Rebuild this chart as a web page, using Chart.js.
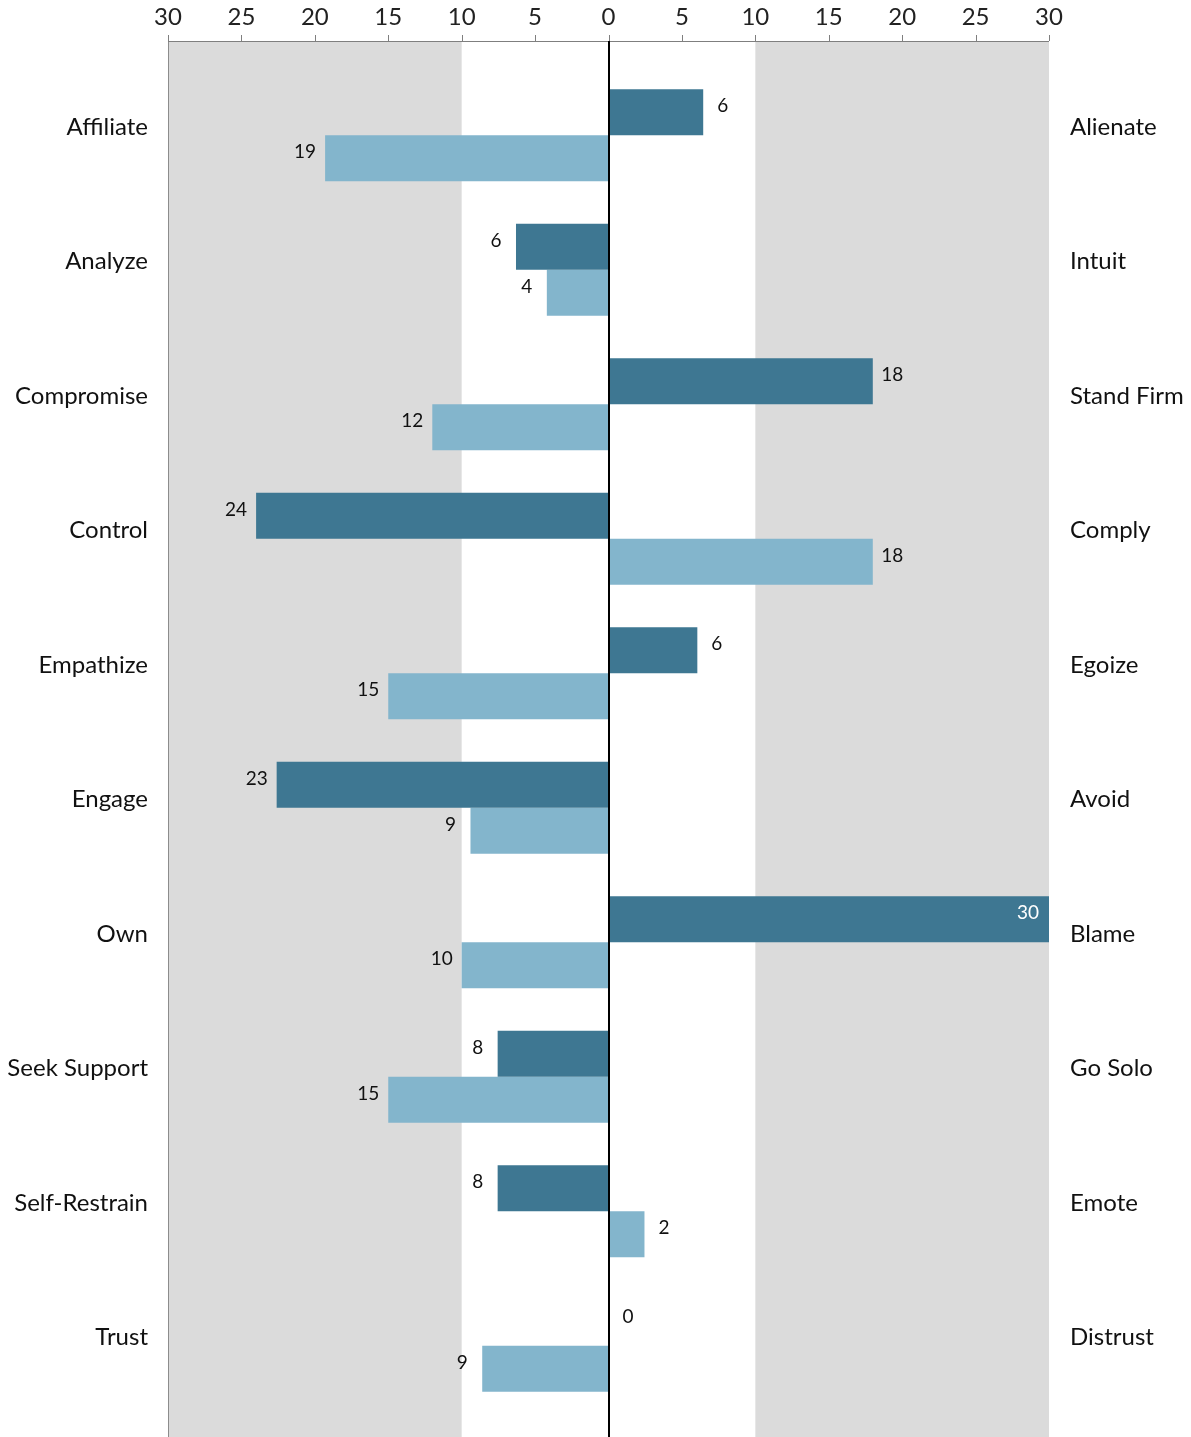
<!DOCTYPE html>
<html>
<head>
<meta charset="utf-8">
<title>Style profile</title>
<script src="https://cdn.jsdelivr.net/npm/chart.js@4.4.1/dist/chart.umd.min.js"></script>
<style>
  html, body { margin: 0; padding: 0; background: #fff; }
  #wrap { width: 1191px; height: 1437px; }
</style>
</head>
<body>
<div id="wrap"><canvas id="profile" width="1191" height="1437"></canvas></div>
<script>
// left / right poles of each scale
const leftLabels = ['Affiliate', 'Analyze', 'Compromise', 'Control', 'Empathize', 'Engage', 'Own', 'Seek Support', 'Self-Restrain', 'Trust'];
const rightLabels = ['Alienate', 'Intuit', 'Stand Firm', 'Comply', 'Egoize', 'Avoid', 'Blame', 'Go Solo', 'Emote', 'Distrust'];

// negative = toward left pole, positive = toward right pole
const firstSeries = [6.45, -6.3, 18, -24, 6.05, -22.6, 30, -7.55, -7.55, 0];
const secondSeries = [-19.3, -4.2, -12, 18, -15, -9.4, -10, -15, 2.45, -8.6];

const xTicks = [-30, -25, -20, -15, -10, -5, 0, 5, 10, 15, 20, 25, 30];
const shadedRanges = [[-30, -10], [10, 30]];

const FONT = 'Lato, "Open Sans", sans-serif';
const AXIS_Y = 41;

const backdrop = {
  id: 'backdrop',
  beforeDatasetsDraw(chart) {
    const { ctx, scales: { x } } = chart;
    const bottom = chart.height;
    ctx.save();
    ctx.fillStyle = '#dbdbdb';
    shadedRanges.forEach(([a, b]) => {
      const x0 = x.getPixelForValue(a), x1 = x.getPixelForValue(b);
      ctx.fillRect(x0, AXIS_Y, x1 - x0, bottom - AXIS_Y);
    });
    // left edge of plot
    ctx.strokeStyle = '#8c8c8c';
    ctx.lineWidth = 1;
    ctx.beginPath();
    ctx.moveTo(Math.round(x.getPixelForValue(-30)) + 0.5, AXIS_Y);
    ctx.lineTo(Math.round(x.getPixelForValue(-30)) + 0.5, bottom);
    ctx.stroke();
    // top axis line and tick marks
    ctx.strokeStyle = '#7f7f7f';
    ctx.beginPath();
    ctx.moveTo(x.getPixelForValue(-30), AXIS_Y + 0.5);
    ctx.lineTo(x.getPixelForValue(30), AXIS_Y + 0.5);
    xTicks.forEach(v => {
      const px = Math.round(x.getPixelForValue(v)) + 0.5;
      ctx.moveTo(px, AXIS_Y - 6);
      ctx.lineTo(px, AXIS_Y);
    });
    ctx.stroke();
    ctx.restore();
  },
  afterDatasetsDraw(chart) {
    const { ctx, chartArea, scales: { x } } = chart;
    ctx.save();
    // zero line
    const zx = Math.round(x.getPixelForValue(0));
    ctx.strokeStyle = '#000';
    ctx.lineWidth = 2;
    ctx.beginPath();
    ctx.moveTo(zx, AXIS_Y);
    ctx.lineTo(zx, chart.height);
    ctx.stroke();

    // value labels
    ctx.font = '19px ' + FONT;
    ctx.textAlign = 'center';
    ctx.textBaseline = 'middle';
    chart.data.datasets.forEach((ds, di) => {
      const meta = chart.getDatasetMeta(di);
      meta.data.forEach((bar, i) => {
        const v = ds.data[i];
        const text = String(Math.round(Math.abs(v)));
        const w = ctx.measureText(text).width;
        let cx, color = '#111';
        if (v >= 0) {
          cx = bar.x + 19.5;
          if (cx + w / 2 > chartArea.right) {
            cx = bar.x - 21;
            color = '#fff';
          }
        } else {
          cx = bar.x - 20;
        }
        ctx.fillStyle = color;
        ctx.fillText(text, cx, bar.y - 6);
      });
    });
    ctx.restore();
  }
};

// side axes keep a fixed width and ask for no extra vertical padding
function sideFit(width) {
  return s => {
    s.width = width;
    s.paddingTop = 0;
    s.paddingBottom = 0;
  };
}

new Chart(document.getElementById('profile'), {
  type: 'bar',
  data: {
    labels: leftLabels,
    datasets: [
      { data: firstSeries, backgroundColor: '#3e7792' },
      { data: secondSeries, backgroundColor: '#83b5cc' }
    ]
  },
  options: {
    indexAxis: 'y',
    responsive: false,
    animation: false,
    layout: { padding: { top: 0, bottom: 24, left: 0, right: 0 } },
    datasets: { bar: { categoryPercentage: 0.684, barPercentage: 1.0 } },
    plugins: { legend: { display: false }, tooltip: { enabled: false } },
    scales: {
      x: {
        type: 'linear',
        position: 'top',
        min: -30,
        max: 30,
        grid: { display: false, drawTicks: false },
        border: { display: false },
        ticks: {
          stepSize: 5,
          autoSkip: false,
          maxRotation: 0,
          padding: 36,
          color: '#222',
          font: { family: FONT, size: 24 },
          callback: v => Math.abs(v)
        },
        afterFit(s) { s.height = 68; }
      },
      y: {
        type: 'category',
        position: 'left',
        offset: true,
        grid: { display: false, drawTicks: false },
        border: { display: false },
        ticks: {
          padding: 20,
          labelOffset: -8,
          color: '#111',
          font: { family: FONT, size: 24 }
        },
        afterFit: sideFit(168)
      },
      y2: {
        type: 'category',
        position: 'right',
        labels: rightLabels,
        offset: true,
        grid: { display: false, drawTicks: false },
        border: { display: false },
        ticks: {
          padding: 21,
          labelOffset: -8,
          color: '#111',
          font: { family: FONT, size: 24 }
        },
        afterFit: sideFit(142)
      }
    }
  },
  plugins: [backdrop]
});
</script>
</body>
</html>
